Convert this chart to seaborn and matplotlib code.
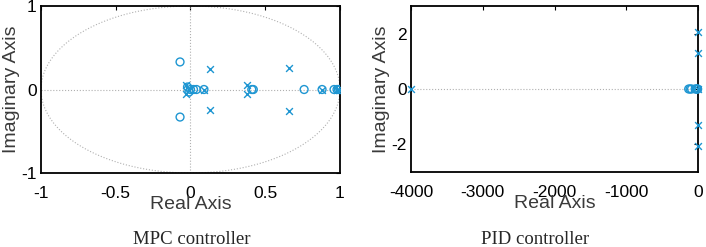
import numpy as np
import matplotlib
matplotlib.use("Agg")
import matplotlib.pyplot as plt
import seaborn as sns

# MPC controller (discrete) poles/zeros
mpc_zero_re = [-0.07, -0.07, -0.02, -0.01, 0.0, 0.02, 0.04, 0.09, 0.41, 0.42, 0.76, 0.88, 0.96, 0.98, 0.99, 1.0]
mpc_zero_im = [0.33, -0.33, 0.03, -0.03, 0.0, 0.0, 0.0, 0.0, 0.0, 0.0, 0.0, 0.0, 0.0, 0.0, 0.0, 0.0]
mpc_pole_re = [-0.03, -0.03, -0.01, 0.09, 0.13, 0.13, 0.38, 0.38, 0.66, 0.66, 0.88, 0.98, 0.99]
mpc_pole_im = [0.05, -0.05, 0.0, 0.0, 0.24, -0.24, 0.05, -0.05, 0.26, -0.26, 0.0, 0.0, 0.0]

# PID controller (continuous) poles/zeros
pid_zero_re = [-130, -110, -90, -40, -20, -10, -5]
pid_zero_im = [0, 0, 0, 0, 0, 0, 0]
pid_pole_re = [-4000, -3, -3, -3, -3, -3]
pid_pole_im = [0.0, 2.07, -2.07, 1.31, -1.31, 0.0]

mpc_xticks = [-1, -0.5, 0, 0.5, 1]
mpc_xticklabels = ["-1", "-0.5", "0", "0.5", "1"]
mpc_yticks = [-1, 0, 1]
pid_xticks = [-4000, -3000, -2000, -1000, 0]
pid_yticks = [-2, 0, 2]

sns.set_style("white")
plt.rcParams['font.family'] = ['Liberation Sans', 'DejaVu Sans']
plt.rcParams['axes.unicode_minus'] = False

C = '#1E96D2'
GRID = '#b0b0b0'

fig = plt.figure(figsize=(7.06, 2.47), dpi=100)
ax1 = fig.add_axes([41/706, 74/247, 299/706, 167/247])
ax2 = fig.add_axes([411/706, 75/247, 287/706, 166/247])

# Left: unit circle and axis lines
t = np.linspace(0, 2*np.pi, 400)
ax1.plot(np.cos(t), np.sin(t), ls=':', color=GRID, lw=0.8, zorder=1)
ax1.axhline(0, ls=':', color=GRID, lw=0.8, zorder=1)
ax1.axvline(0, ls=':', color=GRID, lw=0.8, zorder=1)
sns.scatterplot(x=mpc_zero_re, y=mpc_zero_im, ax=ax1, marker='o', s=32,
                facecolors='none', edgecolor=C, linewidth=1.0, zorder=3)
sns.scatterplot(x=mpc_pole_re, y=mpc_pole_im, ax=ax1, marker='x', s=24,
                color=C, linewidth=1.0, zorder=3)
ax1.set_xlim(-1, 1)
ax1.set_ylim(-1, 1)
ax1.set_xticks(mpc_xticks)
ax1.set_xticklabels(mpc_xticklabels)
ax1.set_yticks(mpc_yticks)

# Right
ax2.axhline(0, ls=':', color=GRID, lw=0.8, zorder=1)
sns.scatterplot(x=pid_zero_re, y=pid_zero_im, ax=ax2, marker='o', s=32,
                facecolors='none', edgecolor=C, linewidth=1.0, zorder=3, clip_on=False)
sns.scatterplot(x=pid_pole_re, y=pid_pole_im, ax=ax2, marker='x', s=24,
                color=C, linewidth=1.0, zorder=3, clip_on=False)
ax2.set_xlim(-4000, 0)
ax2.set_ylim(-3, 3)
ax2.set_xticks(pid_xticks)
ax2.set_yticks(pid_yticks)

for ax in (ax1, ax2):
    for sp in ax.spines.values():
        sp.set_visible(True)
        sp.set_color('black')
        sp.set_linewidth(1.3)
    ax.tick_params(direction='in', length=3, width=0.8, top=True, right=True,
                   labelsize=12.5, colors='black')
    ax.tick_params(axis='x', pad=9.5)
    ax.tick_params(axis='y', pad=3)
    ax.set_xlabel('Real Axis', fontsize=14, color='#3a3a3a', labelpad=-4)
    ax.set_ylabel('Imaginary Axis', fontsize=14, color='#3a3a3a', labelpad=1)

fig.text(192/706, 1-239/247, 'MPC controller', ha='center', va='center',
         fontsize=13.5, family=['Liberation Serif', 'DejaVu Serif'])
fig.text(535/706, 1-239/247, 'PID controller', ha='center', va='center',
         fontsize=13.5, family=['Liberation Serif', 'DejaVu Serif'])

fig.savefig('out.png', dpi=100)
